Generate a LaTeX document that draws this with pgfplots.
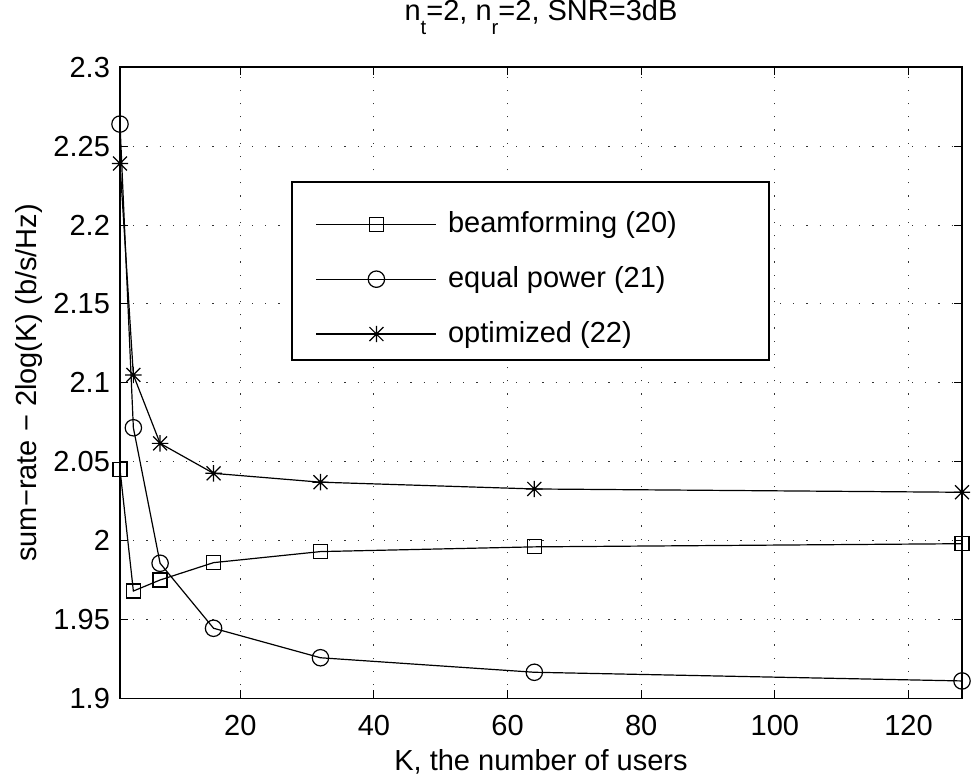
\documentclass[border=0pt]{standalone}
\usepackage{fontspec}
\setmainfont{Liberation Sans}
\usepackage{pgfplots}
\pgfplotsset{compat=1.18}
\pgfdeclareplotmark{mstar}{%
  \pgfpathmoveto{\pgfqpoint{-\pgfplotmarksize}{0pt}}\pgfpathlineto{\pgfqpoint{\pgfplotmarksize}{0pt}}%
  \pgfpathmoveto{\pgfqpoint{0pt}{-\pgfplotmarksize}}\pgfpathlineto{\pgfqpoint{0pt}{\pgfplotmarksize}}%
  \pgfpathmoveto{\pgfqpoint{-0.85\pgfplotmarksize}{-0.85\pgfplotmarksize}}\pgfpathlineto{\pgfqpoint{0.85\pgfplotmarksize}{0.85\pgfplotmarksize}}%
  \pgfpathmoveto{\pgfqpoint{-0.85\pgfplotmarksize}{0.85\pgfplotmarksize}}\pgfpathlineto{\pgfqpoint{0.85\pgfplotmarksize}{-0.85\pgfplotmarksize}}%
  \pgfusepathqstroke}
\newcommand\fs{\fontsize{14.5}{17}\selectfont}
\newcommand\msub[1]{\raisebox{-7pt}{\fontsize{10.2}{12}\selectfont #1}}
\newcommand\legtxt[3]{\makebox[148.5pt][l]{\rule[-#2]{0pt}{#1}#3}}
\begin{document}
\fs
\begin{tikzpicture}
\path[use as bounding box] (0,0) rectangle (487pt,388.5pt);
\begin{axis}[
  at={(60pt,39.35pt)}, anchor=south west,
  scale only axis, width=421pt, height=315.5pt,
  xmin=2, xmax=128, ymin=1.9, ymax=2.3,
  xtick={20,40,60,80,100,120},
  xticklabels={20,40,60,80,100,120},
  ytick={1.9,1.95,2,2.05,2.1,2.15,2.2,2.25,2.3},
  yticklabels={1.9,1.95,2,2.05,2.1,2.15,2.2,2.25,2.3},
  tick label style={font=\fs},
  xticklabel style={yshift=-3.5pt},
  /pgf/number format/assume math mode=true,
  xtick pos=both, ytick pos=both,
  tick align=inside, major tick length=4pt,
  tick style={black, line width=0.5pt},
  axis line style={line width=0.8pt},
  grid=major,
  major grid style={black!80, line width=0.45pt, dash pattern=on 0.6pt off 6pt},
  clip=false,
  title={n\msub{t}=2, n\msub{r}=2, SNR=3dB},
  title style={at={(axis description cs:0.5,1.0555)}, anchor=base, font=\fs},
  xlabel={K, the number of users},
  xlabel style={at={(axis description cs:0.5,-0.1141)}, anchor=base, font=\fs},
  ylabel={sum−rate − 2log(K) (b/s/Hz)},
  ylabel style={at={(axis description cs:-0.0986,0.5)}, anchor=base, font=\fs},
  legend style={at={(axis description cs:0.2031,0.8198)}, anchor=north west,
    draw=black, line width=0.8pt, inner xsep=12pt, inner ysep=6.75pt,
    row sep=14.75pt, column sep=5.5pt,
    nodes={inner sep=0pt},
    cells={anchor=base west}, font=\fs},
  legend image code/.code={\draw[mark repeat=2,mark phase=2,#1] plot coordinates {(0pt,4pt) (30pt,4pt) (60pt,4pt)};},
  every axis plot/.append style={black, line width=0.6pt},
  mark options={solid, line width=0.6pt},
]
\addplot[mark=square, mark size=3.5pt] coordinates {
  (2,2.045) (4,1.968) (8,1.975) (16,1.986) (32,1.993) (64,1.996) (128,1.998)};
\addlegendentry{\legtxt{22pt}{3.5pt}{beamforming (20)}}
\addplot[mark=o, mark size=4.1pt] coordinates {
  (2,2.264) (4,2.0715) (8,1.9856) (16,1.9444) (32,1.9257) (64,1.9165) (128,1.911)};
\addlegendentry{\legtxt{14pt}{3.5pt}{equal power (21)}}
\addplot[mark=mstar, mark size=4.1pt] coordinates {
  (2,2.239) (4,2.105) (8,2.0616) (16,2.0426) (32,2.037) (64,2.0327) (128,2.0306)};
\addlegendentry{\legtxt{15pt}{4.5pt}{optimized (22)}}
\end{axis}
\end{tikzpicture}
\end{document}
